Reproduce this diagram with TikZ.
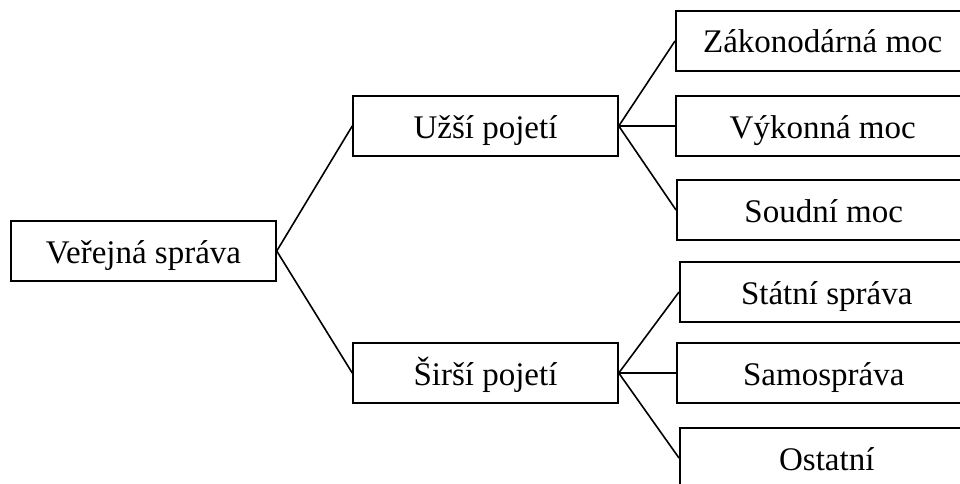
\documentclass[tikz,border=0pt]{standalone}
\usepackage{fontspec}
\setmainfont{Liberation Serif}
\usetikzlibrary{positioning}
\tikzset{
    box/.style={draw, line width=1.5pt, minimum height=60pt, inner sep=0pt,
        font=\fontsize{33}{36}\selectfont, text height=26pt, text depth=2pt},
    midbox/.style={box, minimum width=265pt},
    leafbox/.style={box, minimum width=294pt, anchor=west},
    link/.style={line width=1.6pt}
}

\begin{document}
\begin{tikzpicture}[x=1pt,y=-1pt]
    \clip (0,0) rectangle (960,484);
    \node[midbox] at (143.5,251) (verejna) {Veřejná správa};
    \node[midbox] at (485.5,126) (uzsi) {Užší pojetí};
    \node[midbox] at (485.5,373) (sirsi) {Širší pojetí};
    \node[leafbox] at (675,41) (zakon) {Zákonodárná moc};
    \node[leafbox] at (675,126) (vykon) {Výkonná moc};
    \node[leafbox] at (676,210) (soud) {Soudní moc};
    \node[leafbox] at (679,292) (statni) {Státní správa};
    \node[leafbox] at (676,373) (samo) {Samospráva};
    \node[leafbox] at (679,458) (ostatni) {Ostatní};
    \path[link]
    (verejna.east) edge (uzsi.west)
    (verejna.east) edge (sirsi.west)
    (uzsi.east) edge (zakon.west)
    (uzsi.east) edge (vykon.west)
    (uzsi.east) edge (soud.west)
    (sirsi.east) edge (statni.west)
    (sirsi.east) edge (samo.west)
    (sirsi.east) edge (ostatni.west)
    ;
\end{tikzpicture}
\end{document}
